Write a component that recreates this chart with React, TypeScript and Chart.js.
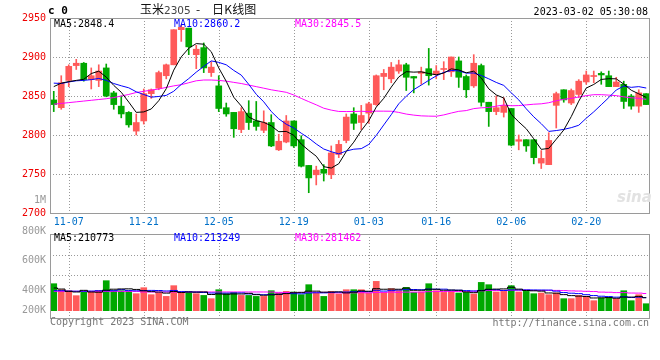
import React, { useEffect, useRef } from 'react';
import { Chart, registerables } from 'chart.js';

Chart.register(...registerables);

// ---------------- data ----------------
const dates = [
  '11-03','11-04','11-07','11-08','11-09','11-10','11-11','11-14','11-15','11-16',
  '11-17','11-18','11-21','11-22','11-23','11-24','11-25','11-28','11-29','11-30',
  '12-01','12-02','12-05','12-06','12-07','12-08','12-09','12-12','12-13','12-14',
  '12-15','12-16','12-19','12-20','12-21','12-22','12-23','12-26','12-27','12-28',
  '12-29','12-30','01-03','01-04','01-05','01-06','01-09','01-10','01-11','01-12',
  '01-13','01-16','01-17','01-18','01-19','01-20','01-30','01-31','02-01','02-02',
  '02-03','02-06','02-07','02-08','02-09','02-10','02-13','02-14','02-15','02-16',
  '02-17','02-20','02-21','02-22','02-23','02-24','02-27','02-28','03-01','03-02',
];
const xTickLabels = ['11-07', '11-21', '12-05', '12-19', '01-03', '01-16', '02-06', '02-20'];

const opens = [
  2845,2835,2870,2889,2892,2871,2870,2886,2854,2837,
  2829,2805,2818,2853,2860,2876,2890,2935,2937,2903,
  2912,2880,2863,2835,2829,2807,2828,2818,2806,2816,
  2781,2791,2818,2794,2761,2749,2756,2749,2775,2793,
  2827,2816,2828,2839,2875,2872,2882,2890,2875,2879,
  2885,2878,2884,2881,2895,2875,2863,2889,2842,2830,
  2829,2834,2792,2794,2794,2764,2762,2838,2858,2841,
  2852,2868,2875,2879,2876,2862,2865,2850,2837,2853,
];
const highs = [
  2856,2876,2890,2897,2893,2886,2890,2891,2856,2850,
  2830,2827,2859,2859,2882,2891,2935,2941,2937,2915,
  2918,2894,2876,2841,2829,2835,2844,2843,2831,2826,
  2801,2825,2818,2799,2761,2760,2762,2786,2793,2827,
  2835,2838,2842,2877,2884,2893,2896,2892,2875,2887,
  2911,2889,2894,2900,2900,2877,2903,2891,2842,2850,
  2848,2834,2800,2794,2794,2780,2803,2855,2858,2859,
  2871,2882,2882,2881,2882,2874,2869,2852,2858,2853,
];
const lows = [
  2830,2833,2862,2884,2869,2859,2862,2849,2833,2822,
  2810,2800,2814,2847,2858,2872,2890,2920,2903,2885,
  2880,2875,2830,2824,2797,2803,2807,2806,2803,2785,
  2780,2790,2784,2759,2726,2736,2741,2744,2771,2790,
  2807,2807,2815,2838,2858,2867,2879,2857,2854,2865,
  2864,2872,2871,2875,2861,2848,2861,2837,2811,2826,
  2823,2786,2781,2779,2763,2757,2762,2809,2842,2839,
  2848,2865,2867,2865,2862,2862,2834,2833,2829,2839,
];
const closes = [
  2839,2867,2888,2892,2871,2876,2882,2850,2839,2827,
  2813,2816,2853,2858,2880,2890,2935,2938,2913,2910,
  2886,2887,2834,2827,2808,2830,2816,2811,2816,2786,
  2792,2818,2786,2760,2745,2755,2751,2777,2788,2823,
  2815,2825,2840,2876,2879,2887,2890,2874,2873,2881,
  2876,2882,2885,2900,2874,2858,2892,2842,2830,2835,
  2838,2787,2794,2786,2771,2770,2793,2853,2845,2857,
  2869,2877,2876,2877,2862,2868,2843,2837,2854,2839,
];
// values of the averages before enough days are on the chart
const ma5Lead = [2862, 2866.5, 2868.5, 2870];
const ma10Lead = [2866.5, 2866, 2868, 2869.5, 2870, 2871, 2872.5, 2870, 2866];
const ma30Lead = [
  2839.5, 2840.5, 2841.5, 2842.5, 2843.5, 2844.5, 2845.5, 2846.5, 2848, 2850,
  2852, 2854.5, 2856, 2857.5, 2859, 2861, 2863, 2864.5, 2867, 2869.5,
  2870.5, 2870.5, 2870, 2869, 2867.5, 2866, 2864, 2862, 2860,
];

const volumes = [
  440000,342000,326000,245000,305000,305000,326000,489000,326000,326000,
  315000,277000,375000,261000,288000,233000,408000,298000,298000,277000,
  249000,196000,342000,277000,298000,249000,249000,233000,233000,326000,
  288000,315000,305000,261000,424000,288000,233000,315000,272000,342000,
  342000,342000,288000,478000,298000,359000,326000,380000,298000,305000,
  440000,326000,298000,315000,288000,298000,272000,461000,424000,305000,
  315000,408000,305000,315000,277000,288000,261000,288000,196000,196000,
  249000,233000,163000,207000,217000,196000,326000,163000,261000,114000,
];
const vma5Lead = [370000, 353000, 315000, 305000];
const vma10Lead = [326000, 326000, 320000, 318000, 318000, 320000, 326000, 326000, 326000];
const vma30Lead = [
  315000,315000,315000,315000,315000,315000,315000,315000,315000,315000,
  315000,315000,305000,305000,305000,305000,305000,305000,305000,305000,
  305000,305000,305000,305000,305000,305000,305000,305000,305000,
];

const priceMin = 2700;
const priceMax = 2950;
const priceStep = 50;
const priceGridValues = [2750, 2800, 2850, 2900];

const volMin = -119000;
const volMax = 1250000;
const volTickValues = [0, 337000, 815000, 1299000];
const volTickLabels = ['200K', '400K', '600K', '800K'];
const volGridValues = [577000, 903000];

const priceLegend = ['MA5:2848.4', 'MA10:2860.2', 'MA30:2845.5'];
const volLegend = ['MA5:210773', 'MA10:213249', 'MA30:281462'];

// ---------------- helpers ----------------
const RED = '#ff5a5a';
const GREEN = '#00a800';
const MA_COLORS = ['#000000', '#0000ff', '#ff00ff'];
const GRID = '#999999';
const MONO = '"DejaVu Sans Mono", "Liberation Mono", monospace';

function movingAverage(values: number[], n: number, lead: number[]) {
  return values.map((_, i) => {
    if (i < n - 1) return lead[i];
    let s = 0;
    for (let k = i - n + 1; k <= i; k++) s += values[k];
    return s / n;
  });
}

const candleColors = closes.map((c, i) => (c >= opens[i] ? RED : GREEN));
const shownIdx = xTickLabels.map((l) => dates.indexOf(l));
const shownSet = new Set(shownIdx);

const framePlugin = {
  id: 'frame',
  afterDraw(chart: any) {
    const { ctx, chartArea: a } = chart;
    ctx.save();
    ctx.strokeStyle = '#9a9a9a';
    ctx.lineWidth = 1;
    const l = Math.round(a.left), t = Math.round(a.top), r = Math.round(a.right), b = Math.round(a.bottom);
    ctx.strokeRect(l + 0.5, t + 0.5, r - l - 1, b - t);
    ctx.restore();
  },
};

const dottedGrid = (hValues: number[]) => ({
  id: 'dottedGrid',
  beforeDatasetsDraw(chart: any) {
    const { ctx, chartArea: a, scales } = chart;
    ctx.save();
    ctx.strokeStyle = GRID;
    ctx.lineWidth = 1;
    ctx.setLineDash([1, 2]);
    ctx.beginPath();
    hValues.forEach((v) => {
      const y = Math.round(scales.y.getPixelForValue(v)) + 0.5;
      ctx.moveTo(a.left, y);
      ctx.lineTo(a.right, y);
    });
    shownIdx.forEach((i) => {
      const x = Math.round(scales.x.getPixelForValue(i)) + 0.5;
      ctx.moveTo(x, a.top);
      ctx.lineTo(x, a.bottom);
    });
    ctx.stroke();
    ctx.restore();
  },
});

const fixYAxis = (s: any) => {
  s.width = 50;
  s.paddingTop = 0;
  s.paddingBottom = 0;
};

export default function App() {
  const priceRef = useRef<HTMLCanvasElement | null>(null);
  const volRef = useRef<HTMLCanvasElement | null>(null);

  useEffect(() => {
    const ma5 = movingAverage(closes, 5, ma5Lead);
    const ma10 = movingAverage(closes, 10, ma10Lead);
    const ma30 = movingAverage(closes, 30, ma30Lead);
    const vma5 = movingAverage(volumes, 5, vma5Lead);
    const vma10 = movingAverage(volumes, 10, vma10Lead);
    const vma30 = movingAverage(volumes, 30, vma30Lead);

    const priceChart = new Chart(priceRef.current as HTMLCanvasElement, {
      type: 'bar',
      data: {
        labels: dates,
        datasets: [
          ...[ma5, ma10, ma30].map((d, k) => ({
            type: 'line' as const,
            data: d,
            borderColor: MA_COLORS[k],
            borderWidth: 1,
            pointRadius: 0,
            tension: 0,
            order: 0,
          })),
          {
            type: 'bar' as const,
            data: opens.map((o, i) => [o, closes[i]]),
            backgroundColor: candleColors,
            barThickness: 6,
            minBarLength: 1,
            grouped: false,
            order: 1,
          },
          {
            type: 'bar' as const,
            data: lows.map((l, i) => [l, highs[i]]),
            backgroundColor: candleColors,
            barThickness: 1,
            grouped: false,
            order: 2,
          },
        ] as any,
      },
      options: {
        animation: false,
        responsive: false,
        devicePixelRatio: 1,
        layout: { padding: { top: 18, right: 10, left: 0, bottom: 0 } },
        plugins: { legend: { display: false }, tooltip: { enabled: false } },
        scales: {
          x: {
            type: 'category',
            offset: true,
            grid: { display: false, drawTicks: false },
            border: { display: false },
            ticks: {
              autoSkip: false,
              maxRotation: 0,
              padding: 3,
              color: '#0070c8',
              font: { family: MONO, size: 10 },
              callback: (_v: any, i: number) => (shownSet.has(i) ? dates[i] : ''),
            },
            afterFit: (s: any) => { s.height = 19; s.paddingLeft = 0; s.paddingRight = 0; },
          },
          y: {
            min: priceMin,
            max: priceMax,
            ticks: {
              stepSize: priceStep,
              padding: 4,
              color: '#ee0000',
              font: { family: MONO, size: 10 },
              callback: (v: any) => String(v),
            },
            grid: { display: false, drawTicks: false },
            border: { display: false },
            afterFit: fixYAxis,
          },
        },
      } as any,
      plugins: [dottedGrid(priceGridValues), framePlugin],
    });

    const volChart = new Chart(volRef.current as HTMLCanvasElement, {
      type: 'bar',
      data: {
        labels: dates,
        datasets: [
          ...[vma5, vma10, vma30].map((d, k) => ({
            type: 'line' as const,
            data: d,
            borderColor: MA_COLORS[k],
            borderWidth: 1,
            pointRadius: 0,
            stepped: 'middle',
            order: 0,
          })),
          {
            type: 'bar' as const,
            data: volumes.map((v) => [0, v]),
            backgroundColor: candleColors,
            barThickness: 6,
            grouped: false,
            order: 1,
          },
        ] as any,
      },
      options: {
        animation: false,
        responsive: false,
        devicePixelRatio: 1,
        layout: { padding: { top: 14, right: 10, left: 0, bottom: 2 } },
        plugins: { legend: { display: false }, tooltip: { enabled: false } },
        scales: {
          x: {
            type: 'category',
            offset: true,
            grid: { display: false, drawTicks: false },
            border: { display: false },
            ticks: { display: false, autoSkip: false },
            afterFit: (s: any) => { s.height = 0; s.paddingLeft = 0; s.paddingRight = 0; },
          },
          y: {
            position: 'left',
            min: volMin,
            max: volMax,
            afterBuildTicks: (s: any) => { s.ticks = volTickValues.map((v) => ({ value: v })); },
            ticks: {
              autoSkip: false,
              padding: 4,
              color: '#999999',
              font: { family: MONO, size: 10 },
              callback: (_v: any, i: number) => volTickLabels[i],
            },
            grid: { display: false, drawTicks: false },
            border: { display: false },
            afterFit: fixYAxis,
          },
        },
      } as any,
      plugins: [dottedGrid(volGridValues), framePlugin],
    });

    return () => {
      priceChart.destroy();
      volChart.destroy();
    };
  }, []);

  const txt = (extra: React.CSSProperties): React.CSSProperties => ({
    position: 'absolute',
    fontFamily: MONO,
    fontSize: 10,
    lineHeight: '12px',
    whiteSpace: 'pre',
    ...extra,
  });
  const cjk = (extra: React.CSSProperties): React.CSSProperties => ({
    position: 'absolute',
    fontFamily: '"Noto Sans CJK SC", sans-serif',
    fontSize: 12,
    lineHeight: '14px',
    whiteSpace: 'pre',
    color: '#111',
    ...extra,
  });

  return (
    <div style={{ position: 'absolute', left: 0, top: 0, width: 660, height: 360, background: '#fff', overflow: 'hidden' }}>
      <canvas ref={priceRef} width={660} height={232} style={{ position: 'absolute', left: 0, top: 0, width: 660, height: 232 }} />
      <canvas ref={volRef} width={660} height={100} style={{ position: 'absolute', left: 0, top: 220, width: 660, height: 100 }} />

      <div style={txt({ left: 48, top: 5, fontSize: 11, fontWeight: 'bold', color: '#000' })}>c 0</div>
      <div style={cjk({ left: 140, top: 2 })}>玉米</div>
      <div style={{ position: 'absolute', left: 164, top: 4, fontFamily: '"DejaVu Sans", sans-serif', fontSize: 10.5, lineHeight: '12px', color: '#444' }}>2305</div>
      <div style={cjk({ left: 196, top: 2 })}>-</div>
      <div style={cjk({ left: 212, top: 2, letterSpacing: '0.2px' })}>日K线图</div>
      <div style={txt({ left: 448, width: 200, top: 6, textAlign: 'right', color: '#000' })}>2023-03-02 05:30:08</div>

      <div style={txt({ left: 54, top: 18, color: MA_COLORS[0] })}>{priceLegend[0]}</div>
      <div style={txt({ left: 174, top: 18, color: MA_COLORS[1] })}>{priceLegend[1]}</div>
      <div style={txt({ left: 295, top: 18, color: MA_COLORS[2] })}>{priceLegend[2]}</div>

      <div style={txt({ left: 0, width: 46, top: 194, textAlign: 'right', color: '#999' })}>1M</div>
      <div style={{ position: 'absolute', left: 617, top: 188, fontFamily: '"DejaVu Sans", sans-serif', fontStyle: 'italic', fontWeight: 'bold', fontSize: 15, color: '#e2e2e2', lineHeight: '18px' }}>sina</div>

      <div style={txt({ left: 54, top: 232, color: MA_COLORS[0] })}>{volLegend[0]}</div>
      <div style={txt({ left: 174, top: 232, color: MA_COLORS[1] })}>{volLegend[1]}</div>
      <div style={txt({ left: 295, top: 232, color: MA_COLORS[2] })}>{volLegend[2]}</div>

      <div style={txt({ left: 50, top: 316, color: '#777' })}>Copyright 2023 SINA.COM</div>
      <div style={txt({ left: 400, width: 249, top: 317, textAlign: 'right', color: '#777' })}>http://finance.sina.com.cn</div>
    </div>
  );
}
